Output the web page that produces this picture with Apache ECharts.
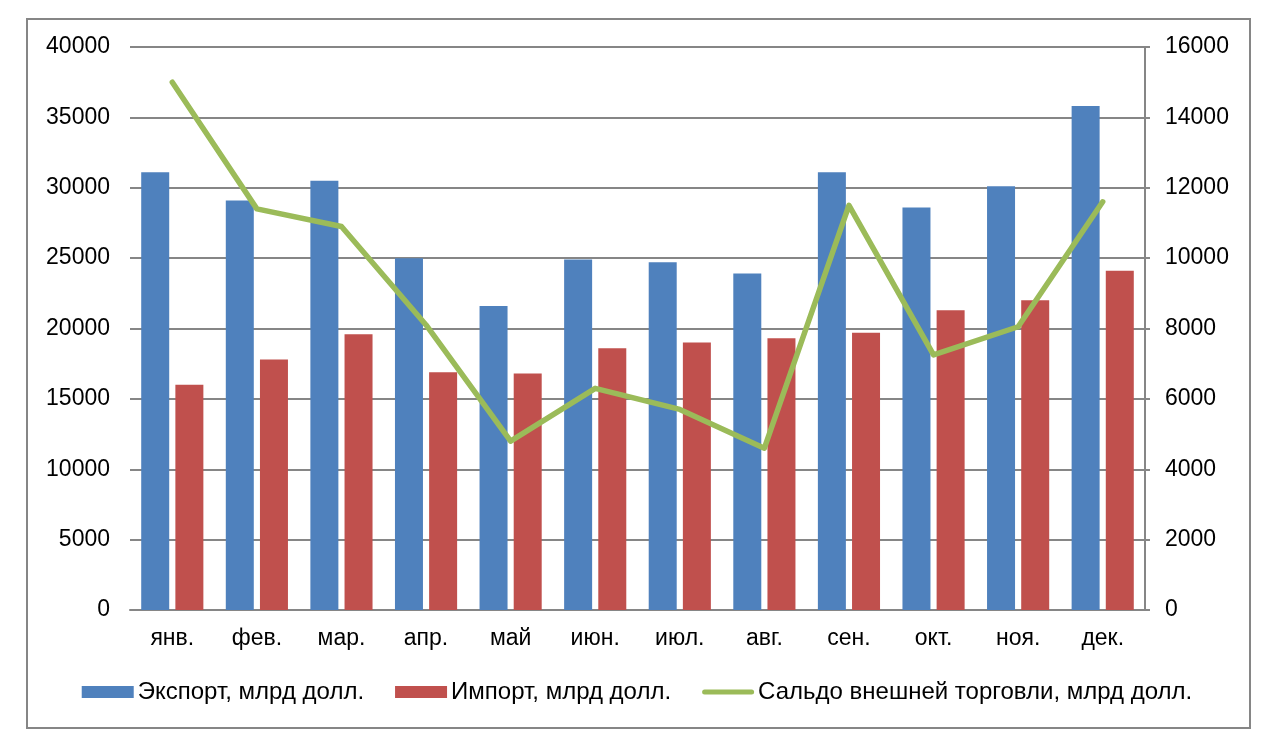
<!DOCTYPE html>
<html>
<head>
<meta charset="utf-8">
<script src="https://cdn.jsdelivr.net/npm/echarts@6/dist/echarts.min.js"></script>
<style>
html,body{margin:0;padding:0;background:#fff;}
#chart{width:1274px;height:746px;}
</style>
</head>
<body>
<div id="chart"></div>
<script>
const categories = ['янв.', 'фев.', 'мар.', 'апр.', 'май', 'июн.', 'июл.', 'авг.', 'сен.', 'окт.', 'ноя.', 'дек.'];
const exportValues = [31100, 29100, 30500, 25000, 21600, 24900, 24700, 23900, 31100, 28600, 30100, 35800];
const importValues = [16000, 17800, 19600, 16900, 16800, 18600, 19000, 19300, 19700, 21300, 22000, 24100];
const saldoValues = [15000, 11400, 10900, 8100, 4800, 6300, 5700, 4600, 11500, 7250, 8050, 11600];
const seriesNames = ['Экспорт, млрд долл.', 'Импорт, млрд долл.', 'Сальдо внешней торговли, млрд долл.'];

const chart = echarts.init(document.getElementById('chart'), null, {renderer: 'canvas'});
const font = 'Liberation Sans, Arial, sans-serif';
const textColor = '#000';
const gridColor = '#868686';
const plain = v => String(v);

chart.setOption({
  backgroundColor: '#fff',
  animation: false,
  textStyle: {fontFamily: font},
  graphic: [{
    type: 'rect',
    shape: {x: 27, y: 19, width: 1223, height: 709},
    style: {fill: 'none', stroke: gridColor, lineWidth: 2},
    silent: true,
    z: -1
  }],
  grid: {left: 130, right: 129, top: 47, bottom: 136, containLabel: false},
  legend: {
    top: 675,
    left: 'center',
    itemWidth: 52,
    itemHeight: 12,
    itemGap: 31,
    symbolKeepAspect: true,
    textStyle: {fontFamily: font, fontSize: 24, color: textColor, padding: [0, 0, 0, -1]},
    data: [
      {name: seriesNames[0], icon: 'rect'},
      {name: seriesNames[1], icon: 'rect'},
      {name: seriesNames[2], icon: 'path://M2.5,0 H49.5 A2.5,2.5 0 0 1 49.5,5 H2.5 A2.5,2.5 0 0 1 2.5,0 Z'}
    ]
  },
  xAxis: {
    type: 'category',
    data: categories,
    axisLine: {show: true, lineStyle: {color: gridColor, width: 2}},
    axisTick: {show: false},
    axisLabel: {color: textColor, fontSize: 23, fontFamily: font, margin: 17}
  },
  yAxis: [{
    type: 'value',
    min: 0, max: 40000, interval: 5000,
    axisLine: {show: false},
    axisTick: {show: false},
    splitLine: {show: true, lineStyle: {color: gridColor, width: 2}},
    axisLabel: {color: textColor, fontSize: 23, fontFamily: font, margin: 20, formatter: plain}
  }, {
    type: 'value',
    min: 0, max: 16000, interval: 2000,
    position: 'right',
    axisLine: {show: true, lineStyle: {color: gridColor, width: 2}},
    axisTick: {show: true, inside: false, length: 5, lineStyle: {color: gridColor, width: 2}},
    splitLine: {show: false},
    axisLabel: {color: textColor, fontSize: 23, fontFamily: font, margin: 20, formatter: plain}
  }],
  series: [{
    name: seriesNames[0],
    type: 'bar',
    data: exportValues,
    itemStyle: {color: '#4F81BD'},
    barWidth: 28,
    barGap: '22%'
  }, {
    name: seriesNames[1],
    type: 'bar',
    data: importValues,
    itemStyle: {color: '#C0504D'},
    barWidth: 28,
    barGap: '22%'
  }, {
    name: seriesNames[2],
    type: 'line',
    yAxisIndex: 1,
    data: saldoValues,
    symbol: 'none',
    lineStyle: {color: '#9BBB59', width: 5.5, cap: 'round', join: 'round'},
    itemStyle: {color: '#9BBB59'},
    z: 5
  }]
});
</script>
</body>
</html>
